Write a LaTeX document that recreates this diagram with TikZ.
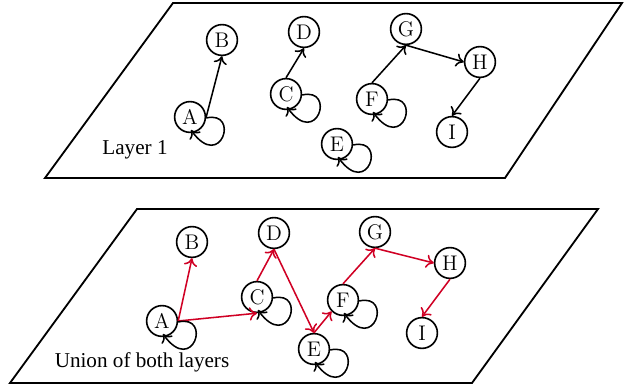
\documentclass[tikz,border=0pt]{standalone}
\usepackage{fontspec}
\newfontfamily\labfont{Liberation Serif}
\usetikzlibrary{arrows.meta}
\definecolor{edgered}{RGB}{208,0,36}
\tikzset{
  plane/.style={draw=black,line width=0.95pt},
  vert/.style={circle,draw=black,line width=0.85pt,minimum size=16pt,inner sep=0pt,font=\fontsize{11}{12}\selectfont},
  tip/.style={-{To[length=4pt,width=7pt]}},
  edge/.style={tip,line width=0.8pt},
  redge/.style={tip,line width=0.8pt,draw=edgered},
  loopedge/.style={tip,line width=0.8pt},
  lab/.style={font=\labfont\fontsize{11}{12}\selectfont},
}
\newcommand\selfloop[1]{\draw[loopedge] ([shift={(0,1)}]#1.east) .. controls +(34,-8) and +(30,42) .. ([shift={(1,13)}]#1.center);}
\begin{document}
\begin{tikzpicture}[x=0.52pt,y=-0.52pt]
\useasboundingbox (0,0) rectangle (624,385);
% top plane
\draw[plane] (173,3) -- (622,3) -- (505,178) -- (45,178) -- cycle;
\node[lab] (l1) at (135,150) {Layer 1};
\node[vert] (tA) at (190,117) {A};
\node[vert] (tB) at (222,40) {B};
\node[vert] (tC) at (286,94) {C};
\node[vert] (tD) at (304,32) {D};
\node[vert] (tE) at (337,144) {E};
\node[vert] (tF) at (372,99) {F};
\node[vert] (tG) at (406,29) {G};
\node[vert] (tH) at (480,62) {H};
\node[vert] (tI) at (452,132) {I};
\draw[edge] (tA.east) -- (tB.south);
\draw[edge] (tC.north) -- (tD.south);
\draw[edge] (tF.north) -- (tG.south);
\draw[edge] (tG.south) -- (tH.west);
\draw[edge] (tH.south) -- (tI.north);
\selfloop{tA}
\selfloop{tC}
\selfloop{tE}
\selfloop{tF}
% bottom plane
\draw[plane] (137,209) -- (598,209) -- (472,383) -- (10,383) -- cycle;
\node[lab] (l2) at (142,362) {Union of both layers};
\node[vert] (bA) at (162,321) {A};
\node[vert] (bB) at (192,242) {B};
\node[vert] (bC) at (257,297) {C};
\node[vert] (bD) at (274,233) {D};
\node[vert] (bE) at (314,349) {E};
\node[vert] (bF) at (343,300) {F};
\node[vert] (bG) at (375,232) {G};
\node[vert] (bH) at (450,263) {H};
\node[vert] (bI) at (422,333) {I};
\draw[redge] (bA.east) -- (bB.south);
\draw[redge] (bA.east) -- (bC.south);
\draw[redge] (bC.north) -- (bD.south);
\draw[redge] (bD.south) -- (bE.north);
\draw[redge] (bE.north) -- (bF.south west);
\draw[redge] (bF.north) -- (bG.south);
\draw[redge] (bG.south) -- (bH.west);
\draw[redge] (bH.south) -- (bI.north);
\selfloop{bA}
\selfloop{bC}
\selfloop{bE}
\selfloop{bF}
\end{tikzpicture}
\end{document}
